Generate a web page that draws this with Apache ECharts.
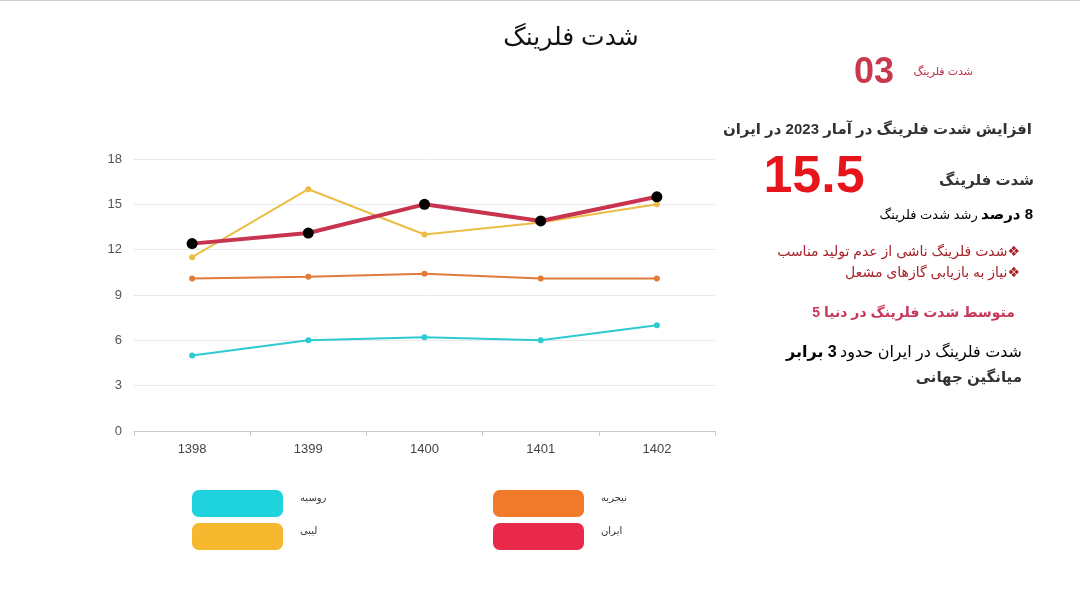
<!DOCTYPE html>
<html>
<head>
<meta charset="utf-8">
<script src="https://cdn.jsdelivr.net/npm/echarts@6/dist/echarts.min.js"></script>
<style>
html,body{margin:0;padding:0;background:#fff;}
#c{width:1080px;height:606px;direction:rtl;}
</style>
</head>
<body>
<div id="c" dir="rtl"></div>
<script>
var categories = ['1398', '1399', '1400', '1401', '1402'];
var russia = [5, 6, 6.2, 6, 7];
var nigeria = [10.1, 10.2, 10.4, 10.1, 10.1];
var libya = [11.5, 16, 13, 13.8, 15];
var iran = [12.4, 13.1, 15, 13.9, 15.5];
var names = ['روسیه', 'لیبی', 'نیجریه', 'ایران'];

var FF = "'Liberation Sans','DejaVu Sans',sans-serif";
var chart = echarts.init(document.getElementById('c'));
var legendText = {
  fontSize: 10, color: '#333', fontFamily: FF, padding: [0, 0, 0, 12],
  rich: {a: {fontSize: 10, color: '#333', fontFamily: FF, padding: [0, 0, 11, 0]}}
};
function li(name, color) {
  return {name: name, itemStyle: {color: color, borderWidth: 0}};
}
chart.setOption({
  backgroundColor: '#fff',
  animation: false,
  title: {
    text: 'شدت فلرینگ', left: 566, top: 21, textAlign: 'center',
    textStyle: {fontSize: 25, fontWeight: 'normal', color: '#111', fontFamily: FF}
  },
  legend: [{
    left: 187, top: 485, orient: 'vertical', itemGap: 6, itemWidth: 91, itemHeight: 27,
    icon: 'roundRect', textStyle: legendText, formatter: '{a|{name}}',
    data: [li(names[0], '#1fd3de'), li(names[1], '#f5b82e')]
  }, {
    left: 488, top: 485, orient: 'vertical', itemGap: 6, itemWidth: 91, itemHeight: 27,
    icon: 'roundRect', textStyle: legendText, formatter: '{a|{name}}',
    data: [li(names[2], '#f07a2a'), li(names[3], '#e8294a')]
  }],
  grid: {left: 134, right: 365, top: 159, bottom: 175},
  xAxis: {
    type: 'category', data: categories, boundaryGap: true,
    axisLine: {lineStyle: {color: '#cccccc'}},
    axisTick: {show: true, length: 5, lineStyle: {color: '#cccccc'}},
    axisLabel: {color: '#444', fontSize: 13, margin: 12, fontFamily: FF}
  },
  yAxis: {
    type: 'value', min: 0, max: 18, interval: 3,
    axisLine: {show: false}, axisTick: {show: false},
    axisLabel: {color: '#555', fontSize: 13, margin: 12, fontFamily: FF},
    splitLine: {lineStyle: {color: '#e9e9e9'}}
  },
  series: [
    {name: names[0], type: 'line', data: russia, symbol: 'circle', symbolSize: 6,
     lineStyle: {color: '#2ecbd0', width: 2}, itemStyle: {color: '#2ecbd0'}},
    {name: names[2], type: 'line', data: nigeria, symbol: 'circle', symbolSize: 6,
     lineStyle: {color: '#e07b39', width: 2}, itemStyle: {color: '#e07b39'}},
    {name: names[1], type: 'line', data: libya, symbol: 'circle', symbolSize: 6,
     lineStyle: {color: '#ecbd45', width: 2}, itemStyle: {color: '#ecbd45'}},
    {name: names[3], type: 'line', data: iran, symbol: 'circle', symbolSize: 11,
     lineStyle: {color: '#c8334f', width: 4}, itemStyle: {color: '#000'}}
  ],
  graphic: [
    {type: 'line', shape: {x1: 0, y1: 0.5, x2: 1080, y2: 0.5}, style: {stroke: '#cfcfcf', lineWidth: 1}},
    {type: 'text', x: 874, y: 73, style: {text: '03', font: 'bold 36px ' + FF, fill: '#c8384f', align: 'center', verticalAlign: 'middle'}},
    {type: 'text', x: 973, y: 72, style: {text: 'شدت فلرینگ', font: '11px ' + FF, fill: '#c0304a', align: 'right', verticalAlign: 'middle'}},
    {type: 'text', x: 1032, y: 130, style: {text: 'افزایش شدت فلرینگ در آمار 2023 در ایران', font: 'bold 15px ' + FF, fill: '#333', align: 'right', verticalAlign: 'middle'}},
    {type: 'text', x: 814, y: 178, style: {text: '15.5', font: 'bold 52px ' + FF, fill: '#e8141c', align: 'center', verticalAlign: 'middle'}},
    {type: 'text', x: 1034, y: 181, style: {text: 'شدت فلرینگ', font: 'bold 15px ' + FF, fill: '#333', align: 'right', verticalAlign: 'middle'}},
    {type: 'text', x: 1033, y: 215, style: {
      text: '{n|رشد شدت فلرینگ} {b|8 درصد}', align: 'right', verticalAlign: 'middle',
      rich: {n: {fontSize: 13, fontFamily: FF, color: '#333'}, b: {fontSize: 15, fontWeight: 'bold', fontFamily: FF, color: '#333'}}
    }},
    {type: 'text', x: 1020, y: 252, style: {text: '❖شدت فلرینگ ناشی از عدم تولید مناسب', font: '14px ' + FF, fill: '#a8232a', align: 'right', verticalAlign: 'middle'}},
    {type: 'text', x: 1020, y: 273, style: {text: '❖نیاز به بازیابی گازهای مشعل', font: '14px ' + FF, fill: '#a8232a', align: 'right', verticalAlign: 'middle'}},
    {type: 'text', x: 1015, y: 313, style: {text: 'متوسط شدت فلرینگ در دنیا 5', font: 'bold 14px ' + FF, fill: '#c8385a', align: 'right', verticalAlign: 'middle'}},
    {type: 'text', x: 1022, y: 353, style: {
      text: '{b|3 برابر} {n|شدت فلرینگ در ایران حدود}', align: 'right', verticalAlign: 'middle',
      rich: {n: {fontSize: 16, fontFamily: FF, color: '#333'}, b: {fontSize: 16, fontWeight: 'bold', fontFamily: FF, color: '#333'}}
    }},
    {type: 'text', x: 1022, y: 378, style: {text: 'میانگین جهانی', font: 'bold 15px ' + FF, fill: '#333', align: 'right', verticalAlign: 'middle'}}
  ]
});
</script>
</body>
</html>
